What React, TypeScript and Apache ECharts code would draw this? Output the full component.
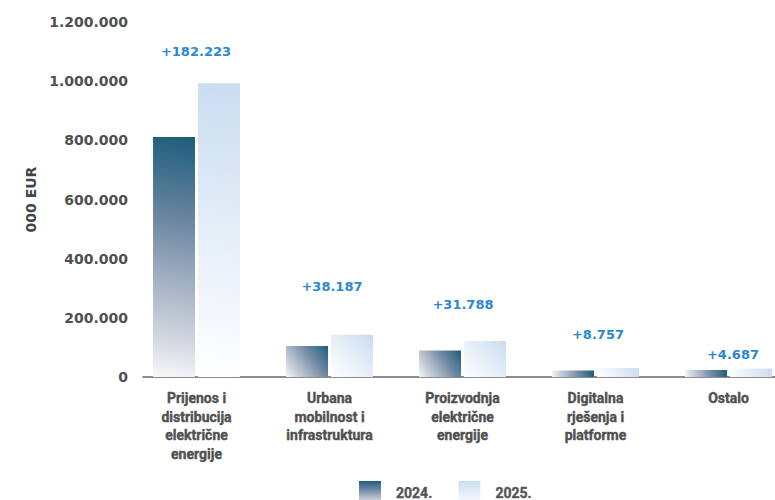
import React, { useEffect, useRef } from "react";
import * as echarts from "echarts";

const categories = [
  "Prijenos i\ndistribucija\nelektrične\nenergije",
  "Urbana\nmobilnost i\ninfrastruktura",
  "Proizvodnja\nelektrične\nenergije",
  "Digitalna\nrješenja i\nplatforme",
  "Ostalo",
];
const seriesNames = ["2024.", "2025."];
const values2024 = [811000, 104500, 90000, 22000, 24000];
const values2025 = [993223, 142687, 121788, 30757, 28687];
const yTicks = { min: 0, max: 1200000, interval: 200000 };

// label offsets (style only): [dx, dy] in pixels relative to the 2025 bar's top
const labelOffsets: [number, number][] = [
  [-23, -20],
  [-20, -37],
  [-22, -25],
  [-20, -22],
  [-18, -3],
];

const BAR_W = 42;
const stops2024 = [
  { offset: 0, color: "#f8f8fa" },
  { offset: 0.15, color: "#d5d9e1" },
  { offset: 0.4, color: "#a2b0c2" },
  { offset: 0.65, color: "#6c86a0" },
  { offset: 1, color: "#1c5e7d" },
];
const stops2025 = [
  { offset: 0, color: "#ffffff" },
  { offset: 1, color: "#c9dcf0" },
];

const fmt = (v: number) =>
  Math.round(v).toString().replace(/\B(?=(\d{3})+(?!\d))/g, ".");

export default function App() {
  const ref = useRef<HTMLDivElement>(null);
  useEffect(() => {
    if (!ref.current) return;
    const chart = echarts.init(ref.current, undefined, { renderer: "svg" });
    const labelFont = {
      fontFamily: "DejaVu Sans",
      fontWeight: "bold",
    };
    const diffLabel = (i: number) => ({
      show: true,
      position: "top",
      distance: 5,
      offset: labelOffsets[i],
      formatter: () => "+" + fmt(values2025[i] - values2024[i]),
      ...labelFont,
      fontSize: 13,
      color: "#2b88cf",
    });
    chart.setOption({
      animation: false,
      backgroundColor: "#ffffff",
      grid: [
        { left: 130, right: 5, top: 22, bottom: 123 },
        { left: 143, right: 0, top: 22, bottom: 123 },
      ],
      legend: {
        data: seriesNames,
        left: 354,
        top: 476,
        icon: "rect",
        itemWidth: 22,
        itemHeight: 24,
        itemGap: 26,
        textStyle: {
          fontFamily: "Roboto",
          fontWeight: "bold",
          fontSize: 14,
          color: "#555555",
          textBorderColor: "#555555",
          textBorderWidth: 0.4,
          padding: [0, 0, 0, 10],
        },
      },
      xAxis: [
        {
          type: "category",
          data: categories,
          gridIndex: 0,
          axisLine: { show: false },
          axisTick: { show: false },
          axisLabel: {
            interval: 0,
            margin: 12,
            fontFamily: "Roboto",
            fontWeight: "bold",
            fontSize: 14,
            lineHeight: 18.5,
            color: "#505050",
            textBorderColor: "#505050",
            textBorderWidth: 0.4,
            verticalAlign: "top",
          },
        },
        {
          type: "value",
          gridIndex: 1,
          min: 0,
          max: 1,
          axisLine: { show: true, lineStyle: { color: "#666666", width: 1.6 } },
          axisTick: { show: false },
          axisLabel: { show: false },
          splitLine: { show: false },
        },
      ],
      yAxis: [
        {
          type: "value",
          gridIndex: 0,
          min: yTicks.min,
          max: yTicks.max,
          interval: yTicks.interval,
          name: "000 EUR",
          nameLocation: "middle",
          nameGap: 82,
          nameRotate: 90,
          nameTextStyle: {
            ...labelFont,
            fontSize: 14,
            color: "#444444",
          },
          axisLine: { show: false },
          axisTick: { show: false },
          splitLine: { show: false },
          axisLabel: {
            margin: 2,
            ...labelFont,
            fontSize: 14,
            color: "#4f4f4f",
            formatter: (v: number) => fmt(v),
          },
        },
        {
          type: "value",
          gridIndex: 1,
          show: false,
          min: 0,
          max: 1,
        },
      ],
      series: [
        {
          name: seriesNames[0],
          type: "bar",
          xAxisIndex: 0,
          yAxisIndex: 0,
          data: values2024,
          barWidth: BAR_W,
          barGap: "7%",
          itemStyle: { color: new echarts.graphic.LinearGradient(0, 1, 0, 0, stops2024) },
          z: 3,
        },
        {
          name: seriesNames[1],
          type: "bar",
          xAxisIndex: 0,
          yAxisIndex: 0,
          barWidth: BAR_W,
          barGap: "7%",
          itemStyle: { color: new echarts.graphic.LinearGradient(0, 1, 0, 0, stops2025) },
          z: 3,
          data: values2025.map((v, i) => ({ value: v, label: diffLabel(i) })),
        },
      ],
    });

    // Diagonal (bottom-left -> top-right) gradient in pixel space, expressed in bbox units
    const y0 = chart.convertToPixel({ yAxisIndex: 0 }, 0) as number;
    const diagGradient = (v: number, stops: any) => {
      const y = chart.convertToPixel({ yAxisIndex: 0 }, v) as number;
      const h = Math.max(1, y0 - y);
      const a = BAR_W / h;
      const b = h / BAR_W;
      const t = (a + b) / (a * a + b * b);
      return new echarts.graphic.LinearGradient(0, 1, t * a, 1 - t * b, stops);
    };
    chart.setOption({
      series: [
        {
          data: values2024.map((v) => ({
            value: v,
            itemStyle: { color: diagGradient(v, stops2024) },
          })),
        },
        {
          data: values2025.map((v, i) => ({
            value: v,
            itemStyle: { color: diagGradient(v, stops2025) },
            label: diffLabel(i),
          })),
        },
      ],
    });
    return () => chart.dispose();
  }, []);
  return (
    <div
      style={{
        position: "fixed",
        left: 0,
        top: 0,
        width: 775,
        height: 500,
        overflow: "hidden",
        background: "#fff",
      }}
    >
      <div ref={ref} style={{ width: 800, height: 500 }} />
    </div>
  );
}
